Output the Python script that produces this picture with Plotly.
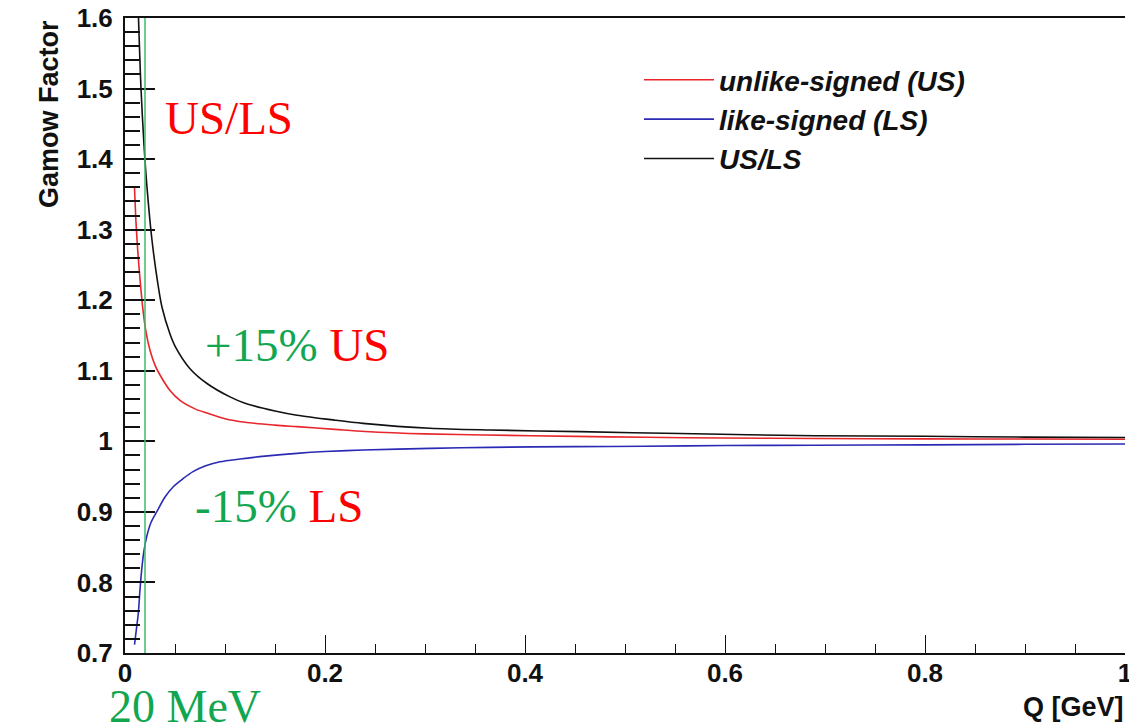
import plotly.graph_objects as go

# Gamow correction factors versus relative momentum Q [GeV]
q_us = [0.0095, 0.011, 0.013, 0.015, 0.018, 0.021, 0.025, 0.030, 0.035, 0.045,
        0.055, 0.070, 0.082, 0.100, 0.120, 0.150, 0.172, 0.210, 0.240, 0.300,
        0.360, 0.450, 0.520, 0.600, 0.690, 0.800, 0.900, 1.000]
g_us = [1.360, 1.310, 1.265, 1.230, 1.186, 1.155, 1.129, 1.108, 1.094, 1.072,
        1.058, 1.046, 1.040, 1.032, 1.027, 1.023, 1.0208, 1.017, 1.014, 1.0105,
        1.009, 1.007, 1.0057, 1.0047, 1.004, 1.0035, 1.0033, 1.003]

q_ls = [0.0095, 0.0115, 0.0133, 0.015, 0.0167, 0.019, 0.0217, 0.026, 0.0317, 0.040,
        0.0483, 0.058, 0.068, 0.080, 0.095, 0.115, 0.140, 0.172, 0.200, 0.238,
        0.305, 0.365, 0.450, 0.520, 0.600, 0.690, 0.800, 0.900, 1.000]
g_ls = [0.712, 0.735, 0.756, 0.790, 0.818, 0.845, 0.865, 0.885, 0.900, 0.921,
        0.9357, 0.947, 0.957, 0.965, 0.971, 0.975, 0.979, 0.983, 0.9855, 0.9877,
        0.990, 0.9915, 0.9925, 0.993, 0.994, 0.9945, 0.995, 0.9958, 0.9962]

q_ratio = [0.0135, 0.016, 0.019, 0.022, 0.027, 0.033, 0.037, 0.045, 0.050, 0.065,
           0.082, 0.105, 0.120, 0.150, 0.172, 0.210, 0.238, 0.305, 0.365, 0.455,
           0.555, 0.690, 0.800, 0.900, 1.000]
g_ratio = [1.600, 1.500, 1.420, 1.360, 1.285, 1.222, 1.190, 1.152, 1.135, 1.103,
           1.082, 1.063, 1.054, 1.043, 1.037, 1.030, 1.0255, 1.0185, 1.016, 1.0137,
           1.011, 1.008, 1.0072, 1.006, 1.0055]

series_names = ["unlike-signed (US)", "like-signed (LS)", "US/LS"]
series_colors = ["#e8262b", "#2a2ab5", "#111111"]

q_cut = 0.02  # 20 MeV threshold

y_tickvals = [0.7, 0.8, 0.9, 1.0, 1.1, 1.2, 1.3, 1.4, 1.5, 1.6]
y_ticktext = ["0.7", "0.8", "0.9", "1", "1.1", "1.2", "1.3", "1.4", "1.5", "1.6"]
x_tickvals = [0, 0.2, 0.4, 0.6, 0.8, 1.0]
x_ticktext = ["0", "0.2", "0.4", "0.6", "0.8", "1"]

GREEN = "#12a650"
RED = "#ff0000"

fig = go.Figure()
for qs, gs, name, col in zip([q_us, q_ls, q_ratio], [g_us, g_ls, g_ratio],
                             series_names, series_colors):
    fig.add_trace(go.Scatter(x=qs, y=gs, mode="lines", name=name,
                             line=dict(color=col, width=1.6, shape="spline", smoothing=0.8)))

# vertical threshold line
fig.add_shape(type="line", x0=q_cut, x1=q_cut, y0=0.7, y1=1.6, xref="x", yref="y",
              line=dict(color="#3dbb6e", width=1.5), layer="above")

W, H = 1129, 724
L, R, T, B = 125, 4, 18, 71
pw, ph = W - L - R, H - T - B


def px(x):
    return (x - L) / pw


def py(y):
    return (H - B - y) / ph


serif = "Liberation Serif, Times New Roman, serif"
sans = "Liberation Sans, Arial, Helvetica, sans-serif"

fig.add_annotation(x=px(163), y=py(118), xref="paper", yref="paper",
                   xanchor="left", yanchor="middle", showarrow=False,
                   text="US/LS", font=dict(family=serif, size=47, color=RED))
fig.add_annotation(x=px(203), y=py(345), xref="paper", yref="paper",
                   xanchor="left", yanchor="middle", showarrow=False,
                   text=f"<span style='color:{GREEN}'>+15%</span> <span style='color:{RED}'>US</span>",
                   font=dict(family=serif, size=47, color=RED))
fig.add_annotation(x=px(193), y=py(506), xref="paper", yref="paper",
                   xanchor="left", yanchor="middle", showarrow=False,
                   text=f"<span style='color:{GREEN}'>-15%</span> <span style='color:{RED}'>LS</span>",
                   font=dict(family=serif, size=47, color=RED))
fig.add_annotation(x=px(107), y=py(706), xref="paper", yref="paper",
                   xanchor="left", yanchor="middle", showarrow=False,
                   text="20 MeV", font=dict(family=serif, size=46, color=GREEN))

# axis titles
fig.add_annotation(x=px(1126), y=py(707), xref="paper", yref="paper",
                   xanchor="right", yanchor="middle", showarrow=False,
                   text="Q [GeV]", font=dict(family=sans, size=27, color="#111", weight=700))
fig.add_annotation(x=px(49), y=py(18), xref="paper", yref="paper",
                   xanchor="center", yanchor="top", showarrow=False, textangle=-90,
                   text="Gamow Factor", font=dict(family=sans, size=27, color="#111", weight=700))

fig.update_layout(
    width=W, height=H,
    margin=dict(l=L, r=R, t=T, b=B, pad=0, autoexpand=False),
    paper_bgcolor="white", plot_bgcolor="white",
    showlegend=True,
    legend=dict(x=px(639), y=py(55), xanchor="left", yanchor="top",
                bgcolor="rgba(0,0,0,0)", itemwidth=70, tracegroupgap=0,
                font=dict(family=sans, size=28, color="#111", weight=700, style="italic")),
    xaxis=dict(range=[0, 1], showgrid=False, zeroline=False, automargin=False,
               showline=True, linecolor="#111", linewidth=2, mirror=True,
               ticks="inside", ticklen=18, tickwidth=1.3, tickcolor="#111",
               tickvals=x_tickvals, ticktext=x_ticktext, ticklabelstandoff=-4,
               ticklabeloverflow="allow",
               tickfont=dict(family=sans, size=26, color="#111", weight=700),
               minor=dict(dtick=0.05, ticks="inside", ticklen=9, tickwidth=1.3,
                          tickcolor="#111", showgrid=False)),
    yaxis=dict(range=[0.7, 1.6], showgrid=False, zeroline=False, automargin=False,
               showline=True, linecolor="#111", linewidth=2, mirror=False,
               ticks="inside", ticklen=30, tickwidth=1.5, tickcolor="#111",
               tickvals=y_tickvals, ticktext=y_ticktext, ticklabelstandoff=5,
               tickfont=dict(family=sans, size=26, color="#111", weight=700),
               minor=dict(dtick=0.02, tick0=0.7, ticks="inside", ticklen=15, tickwidth=2,
                          tickcolor="#111", showgrid=False)),
)

fig.write_html("out.html")
